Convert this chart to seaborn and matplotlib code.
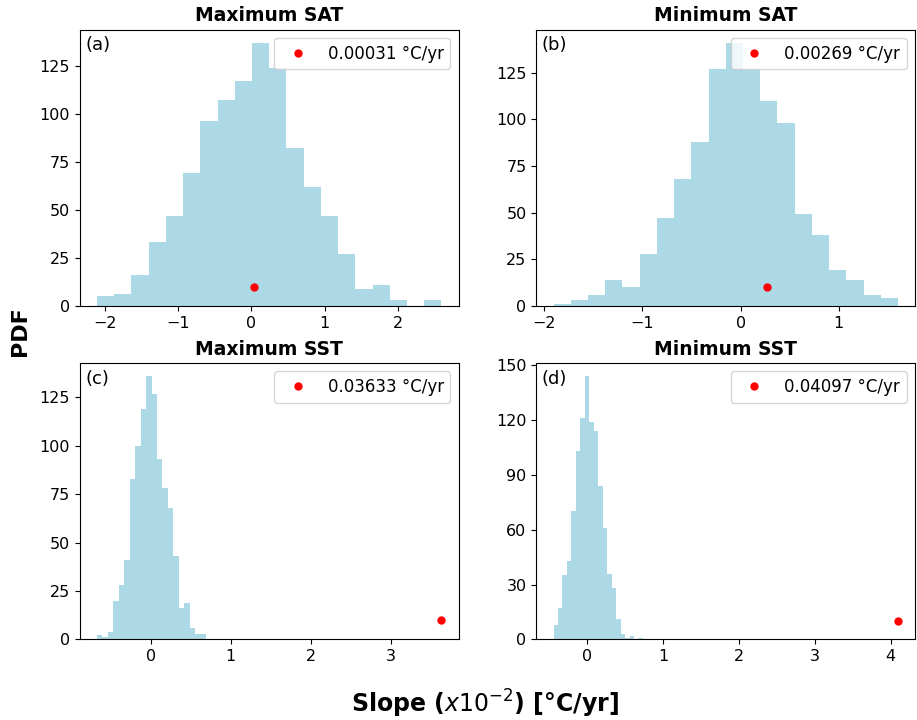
import numpy as np
import pandas as pd
import matplotlib
matplotlib.use("Agg")
import matplotlib.pyplot as plt
from matplotlib.ticker import MultipleLocator
import seaborn as sns

# Histogram counts (20 bins per panel)
titles = ["Maximum SAT", "Minimum SAT", "Maximum SST", "Minimum SST"]
panel_tags = ["(a)", "(b)", "(c)", "(d)"]

bins_a = (-2.103, 2.590)
counts_a = [5, 6, 16, 33, 47, 69, 96, 107, 117, 137,
            124, 82, 62, 47, 27, 9, 11, 3, 0, 3]

bins_b = (-1.906, 1.603)
counts_b = [1, 3, 6, 14, 10, 28, 47, 68, 88, 127,
            141, 127, 110, 98, 49, 38, 19, 14, 6, 4]

bins_c = (-0.673, 0.690)
counts_c = [2, 1, 4, 20, 28, 41, 83, 100, 119, 136,
            127, 93, 78, 68, 43, 16, 19, 6, 3, 3]

bins_d = (-0.447, 0.733)
counts_d = [8, 17, 35, 43, 70, 103, 121, 144, 119, 114,
            84, 61, 36, 28, 11, 3, 1, 2, 0, 1]

# observed trends (x10^-2 on the axis) and labels
obs_slope = [0.031, 0.269, 3.633, 4.097]
obs_label = ["0.00031 °C/yr", "0.00269 °C/yr", "0.03633 °C/yr", "0.04097 °C/yr"]
dot_y = 10
ytick_step = [25, 25, 25, 30]

fig, axes = plt.subplots(2, 2, figsize=(9.17, 7.2), dpi=100)
plt.subplots_adjust(left=0.087, right=0.998, top=0.959, bottom=0.112,
                    wspace=0.205, hspace=0.207)

all_bins = [bins_a, bins_b, bins_c, bins_d]
all_counts = [counts_a, counts_b, counts_c, counts_d]

for i, ax in enumerate(axes.flat):
    lo, hi = all_bins[i]
    n = len(all_counts[i])
    edges = np.linspace(lo, hi, n + 1)
    df = pd.DataFrame({"slope": (edges[:-1] + edges[1:]) / 2,
                       "count": all_counts[i]})
    sns.histplot(data=df, x="slope", weights="count", bins=n,
                 binrange=(lo, hi), color="lightblue",
                 alpha=1, linewidth=0, ax=ax)
    ax.plot(obs_slope[i], dot_y, "o", color="red", markersize=5,
            label=obs_label[i])
    ax.set_title(titles[i], fontsize=13.5, fontweight="bold")
    ax.set_ylabel("")
    ax.set_xlabel("")
    ax.yaxis.set_major_locator(MultipleLocator(ytick_step[i]))
    ax.tick_params(labelsize=11.5)
    ax.text(0.015, 0.975, panel_tags[i], transform=ax.transAxes,
            fontsize=13, va="top", ha="left")
    ax.legend(loc="upper right", fontsize=12, handletextpad=0.8)

fig.text(0.022, 0.54, "PDF", rotation=90, fontsize=16, fontweight="bold",
         ha="center", va="center")
fig.text(0.529, 0.022, "Slope ($x10^{-2}$) [°C/yr]", fontsize=17,
         fontweight="bold", ha="center", va="center")

plt.savefig("out.png", dpi=100)
